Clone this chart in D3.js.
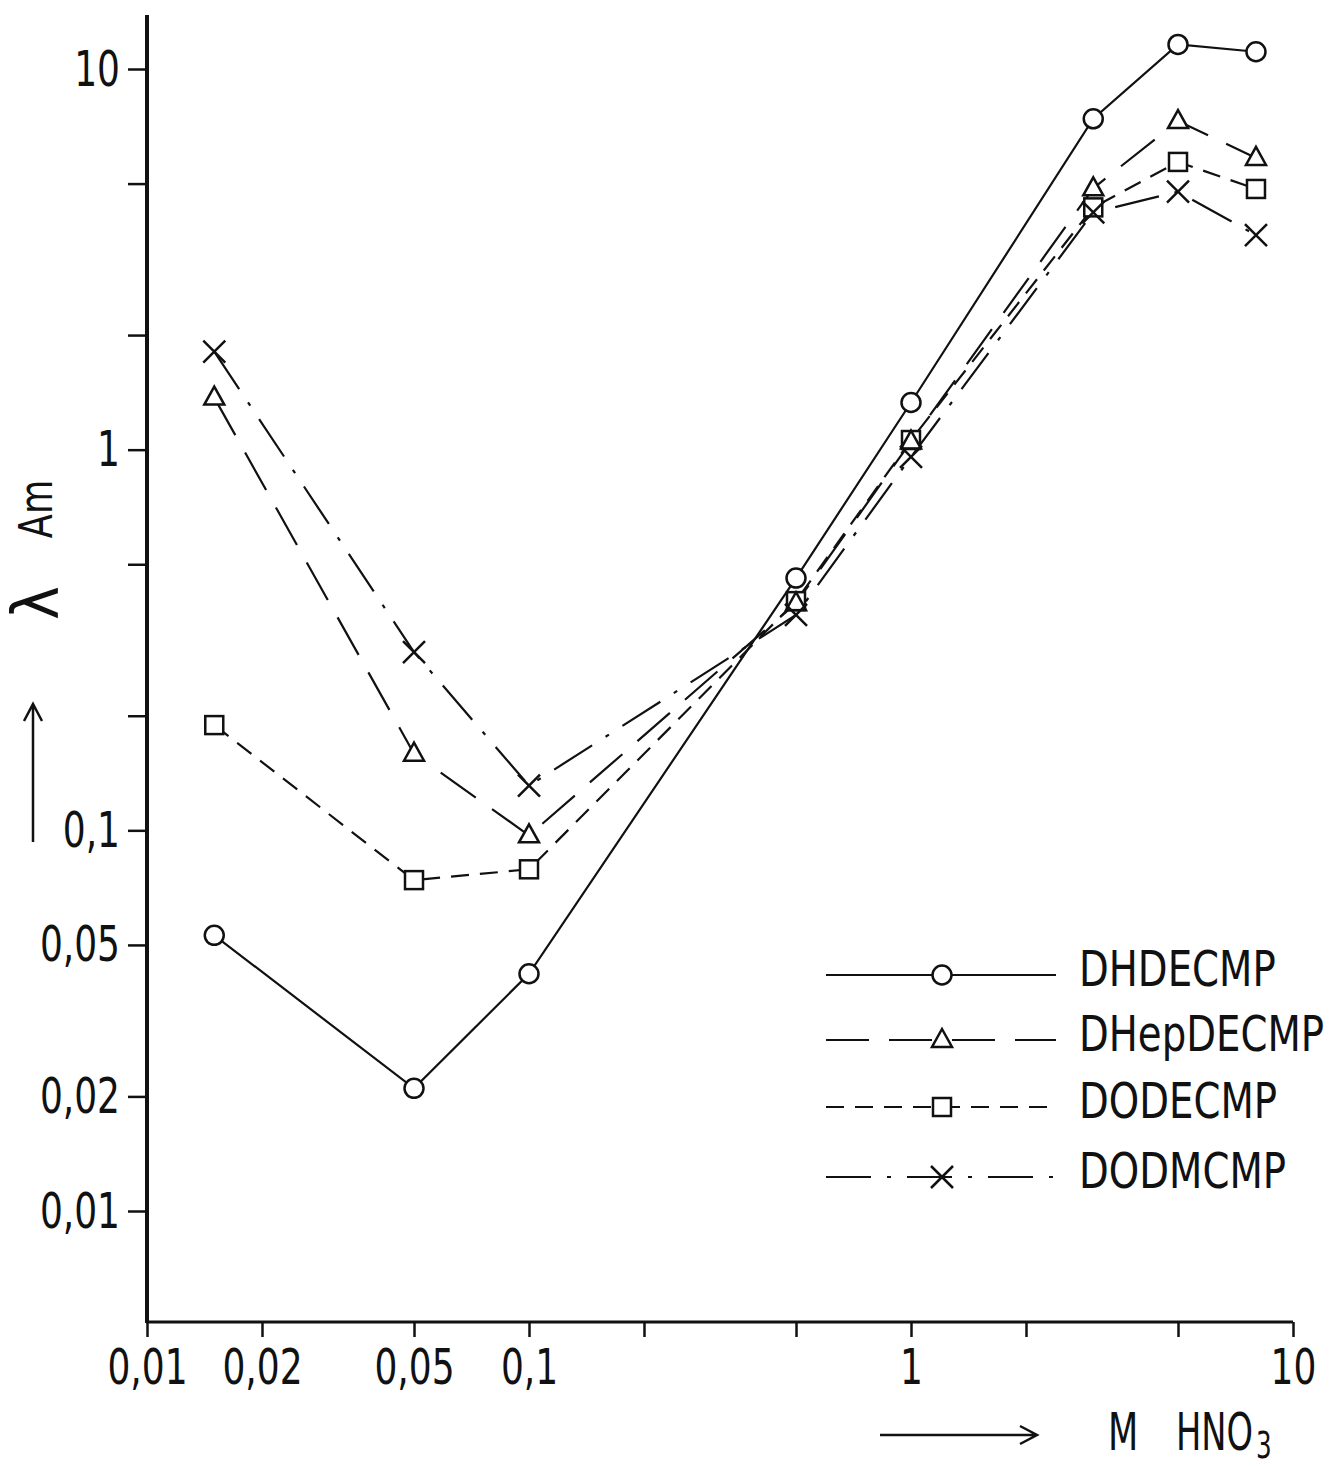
<!DOCTYPE html>
<html><head><meta charset="utf-8">
<script src="https://cdn.jsdelivr.net/npm/d3@7"></script>
<style>
body{margin:0;background:#fff}
text{font-family:"DejaVu Sans Condensed","DejaVu Sans",sans-serif;fill:#111}
</style></head>
<body><svg id="c" width="1330" height="1468"></svg>
<script>
// ---- data ----
const xValues = [0.015, 0.05, 0.1, 0.5, 1, 3, 5, 8];
const seriesNames = ["DHDECMP", "DHepDECMP", "DODECMP", "DODMCMP"];
const DHDECMP   = [0.053, 0.021, 0.042, 0.46, 1.33, 7.4, 11.6, 11.1];
const DHepDECMP = [1.37, 0.159, 0.097, 0.395, 1.05, 4.86, 7.3, 5.84];
const DODECMP   = [0.189, 0.074, 0.079, 0.40, 1.06, 4.33, 5.7, 4.84];
const DODMCMP   = [1.81, 0.294, 0.131, 0.368, 0.957, 4.2, 4.76, 3.66];
const xTickValues = [0.01, 0.02, 0.05, 0.1, 0.2, 0.5, 1, 2, 5, 10];
const xTickLabels = ["0,01", "0,02", "0,05", "0,1", "", "", "1", "", "", "10"];
const yTickValues = [0.01, 0.02, 0.05, 0.1, 0.2, 0.5, 1, 2, 5, 10];
const yTickLabels = ["0,01", "0,02", "0,05", "0,1", "", "", "1", "", "", "10"];
const yAxisSymbol = "λ", yAxisElement = "Am";
const xAxisLabelMain = "M", xAxisLabelChem = "HNO", xAxisLabelSub = "3";

const seriesData = [DHDECMP, DHepDECMP, DODECMP, DODMCMP];
const markers = ["circle", "triangle", "square", "cross"];
const dashes = [null, "43,20", "18,11", "45,16,4,16"];

const svg = d3.select("#c");
const ink = "#111";

// horizontal condensing of text around its own anchor x
function squeeze(sel, sx) {
  sel.each(function () {
    const t = d3.select(this);
    const ax = +(t.attr("x") || 0);
    t.attr("transform", `translate(${ax},0) scale(${sx},1) translate(${-ax},0)`);
  });
}

const x = d3.scaleLog().domain([0.01, 10]).range([147, 1293]);
const y = d3.scaleLog().domain([0.01, 10]).range([1211, 69]);
const axisY0 = 1322;

// axes lines
svg.append("line").attr("x1", x(0.01)).attr("x2", x(0.01)).attr("y1", 15).attr("y2", axisY0 + 1)
  .attr("stroke", ink).attr("stroke-width", 4);
svg.append("line").attr("x1", x(0.01) - 1).attr("x2", x(10)).attr("y1", axisY0).attr("y2", axisY0)
  .attr("stroke", ink).attr("stroke-width", 3);

const yAxis = d3.axisLeft(y).tickValues(yTickValues)
  .tickFormat((d, i) => yTickLabels[i]).tickSize(19).tickPadding(8);
const gy = svg.append("g").attr("transform", `translate(${x(0.01)},0)`).call(yAxis);
gy.select(".domain").remove();
gy.selectAll(".tick line").attr("stroke", ink).attr("stroke-width", 2.5);
gy.selectAll(".tick text").attr("font-size", 50).attr("fill", ink).call(squeeze, 0.8);

const xAxis = d3.axisBottom(x).tickValues(xTickValues)
  .tickFormat((d, i) => xTickLabels[i]).tickSize(15).tickPadding(12);
const gx = svg.append("g").attr("transform", `translate(0,${axisY0})`).call(xAxis);
gx.select(".domain").remove();
gx.selectAll(".tick line").attr("stroke", ink).attr("stroke-width", 2.5);
gx.selectAll(".tick text").attr("font-size", 50).attr("fill", ink).call(squeeze, 0.8);

// marker drawing
function drawMarker(g, type, cx, cy, layer) {
  const fill = layer === "bg" ? "#fff" : "none";
  const stroke = layer === "bg" ? "none" : ink;
  if (type === "circle") {
    g.append("circle").attr("cx", cx).attr("cy", cy).attr("r", 9.5)
      .attr("fill", fill).attr("stroke", stroke).attr("stroke-width", 2.5);
  } else if (type === "triangle") {
    g.append("path").attr("d", `M${cx},${cy - 11}L${cx + 10},${cy + 7}L${cx - 10},${cy + 7}Z`)
      .attr("fill", fill).attr("stroke", stroke).attr("stroke-width", 2.5);
  } else if (type === "square") {
    g.append("rect").attr("x", cx - 9).attr("y", cy - 9).attr("width", 18).attr("height", 18)
      .attr("fill", fill).attr("stroke", stroke).attr("stroke-width", 2.5);
  } else if (type === "cross" && layer !== "bg") {
    g.append("path").attr("d", `M${cx - 11},${cy - 11}L${cx + 11},${cy + 11}M${cx - 11},${cy + 11}L${cx + 11},${cy - 11}`)
      .attr("fill", "none").attr("stroke", ink).attr("stroke-width", 2.5);
  }
}

const line = d3.line().x(d => x(d[0])).y(d => y(d[1]));
const gLines = svg.append("g"), gBg = svg.append("g"), gMk = svg.append("g");
seriesData.forEach((vals, si) => {
  const pts = xValues.map((xv, i) => [xv, vals[i]]);
  gLines.append("path").attr("d", line(pts)).attr("fill", "none")
    .attr("stroke", ink).attr("stroke-width", 2.2)
    .attr("stroke-dasharray", dashes[si]);
  pts.forEach(p => drawMarker(gBg, markers[si], x(p[0]), y(p[1]), "bg"));
  pts.forEach(p => drawMarker(gMk, markers[si], x(p[0]), y(p[1]), "fg"));
});

// legend
const legRows = [975, 1040, 1107, 1177];
const legend = svg.append("g");
seriesNames.forEach((name, i) => {
  const ry = legRows[i];
  legend.append("line").attr("x1", 826).attr("x2", 1056).attr("y1", ry).attr("y2", ry)
    .attr("stroke", ink).attr("stroke-width", 2.2).attr("stroke-dasharray", dashes[i]);
  drawMarker(legend, markers[i], 942, ry, "bg");
  drawMarker(legend, markers[i], 942, ry, "fg");
  legend.append("text").attr("x", 1079).attr("y", ry + 11).attr("font-size", 50).text(name)
    .call(squeeze, 0.86);
});

// axis titles with arrows
svg.append("text").attr("transform", "translate(58,603) rotate(-90)")
  .attr("text-anchor", "middle").attr("font-size", 64).text(yAxisSymbol);
svg.append("text").attr("transform", "translate(52,509) rotate(-90) scale(0.85,1)")
  .attr("text-anchor", "middle").attr("font-size", 46).text(yAxisElement);
svg.append("path").attr("d", "M33,842L33,704M24,721L33,704L42,721")
  .attr("fill", "none").attr("stroke", ink).attr("stroke-width", 2.5);
svg.append("path").attr("d", "M880,1435L1037,1435M1020,1426L1037,1435L1020,1444")
  .attr("fill", "none").attr("stroke", ink).attr("stroke-width", 2.5);
svg.append("text").attr("x", 1108).attr("y", 1450).attr("font-size", 52).text(xAxisLabelMain)
  .call(squeeze, 0.75);
const xt = svg.append("text").attr("x", 1176).attr("y", 1450).attr("font-size", 52);
xt.append("tspan").text(xAxisLabelChem);
xt.append("tspan").attr("font-size", 38).attr("dx", 4).attr("dy", 8).text(xAxisLabelSub);
xt.call(squeeze, 0.72);
</script></body></html>
